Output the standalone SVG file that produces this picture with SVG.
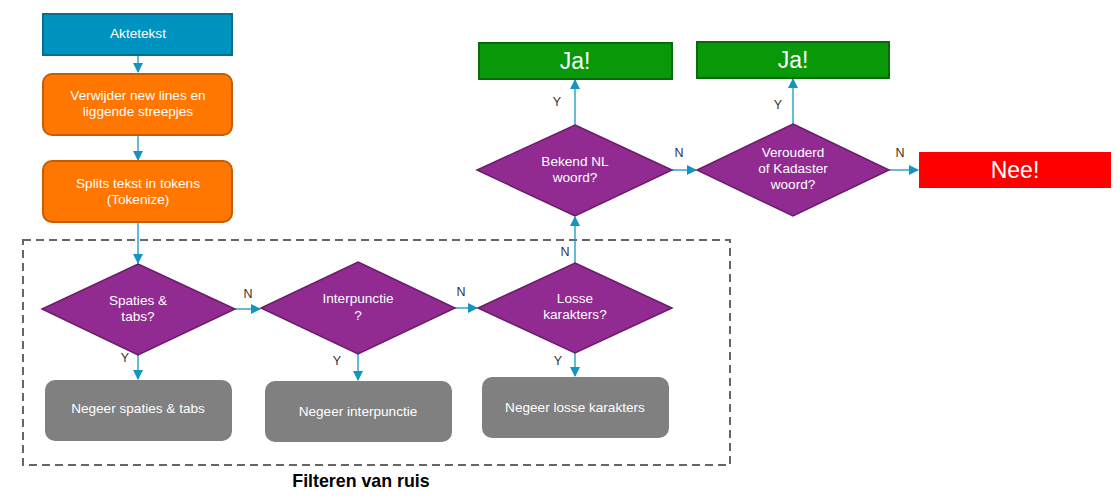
<svg xmlns="http://www.w3.org/2000/svg" width="1118" height="502" viewBox="0 0 1118 502">
<defs>
<marker id="ah" viewBox="0 0 10 10" refX="9" refY="5" markerWidth="10" markerHeight="10" markerUnits="userSpaceOnUse" orient="auto">
<path d="M0,0 L10,5 L0,10 z" fill="#1395C2"/>
</marker>
<style>
.blue{fill:#0093C0;stroke:#0A6C8E;stroke-width:2}
.orange{fill:#FF7700;stroke:#C65B00;stroke-width:2}
.dia{fill:#912A91;stroke:#6B1D6B;stroke-width:1.5}
.gray{fill:#808080;stroke:none}
.green{fill:#089808;stroke:#0A6A0A;stroke-width:2}
.red{fill:#FF0000;stroke:none}
.t{font-family:"Liberation Sans",Arial,sans-serif;font-size:13.6px;fill:#fff;text-anchor:middle}
.big{font-family:"Liberation Sans",Arial,sans-serif;font-size:23px;fill:#fff;text-anchor:middle}
.lbl{font-family:"Liberation Sans",Arial,sans-serif;font-size:12.5px;fill:#333;text-anchor:middle}
.c{stroke:#1395C2;stroke-width:1.3;fill:none;marker-end:url(#ah)}
</style>
</defs>
<rect width="1118" height="502" fill="#fff"/>
<g id="group-filter">
<rect x="23" y="240" width="707" height="225" fill="none" stroke="#666" stroke-width="2" stroke-dasharray="8,5"/>
<text x="361" y="487" font-family="'Liberation Sans',Arial,sans-serif" font-size="17.8" font-weight="bold" fill="#000" text-anchor="middle">Filteren van ruis</text>
</g>
<g id="connectors">
<line class="c" x1="138" y1="55" x2="138" y2="72"/>
<line class="c" x1="138" y1="135" x2="138" y2="160"/>
<line class="c" x1="138" y1="222" x2="138" y2="263"/>
<line class="c" x1="138" y1="355" x2="138" y2="379"/>
<line class="c" x1="358" y1="354" x2="358" y2="380"/>
<line class="c" x1="575" y1="353" x2="575" y2="376"/>
<line class="c" x1="235" y1="309" x2="260" y2="309"/>
<line class="c" x1="455" y1="308" x2="477" y2="308"/>
<line class="c" x1="575" y1="263" x2="575" y2="217"/>
<line class="c" x1="575" y1="125" x2="575" y2="80"/>
<line class="c" x1="672" y1="170" x2="696" y2="170"/>
<line class="c" x1="793" y1="124" x2="793" y2="79"/>
<line class="c" x1="889" y1="170" x2="918" y2="170"/>
<text class="lbl" x="125" y="362">Y</text>
<text class="lbl" x="337" y="365">Y</text>
<text class="lbl" x="558" y="365">Y</text>
<text class="lbl" x="248" y="298">N</text>
<text class="lbl" x="461" y="296">N</text>
<text class="lbl" x="565" y="256">N</text>
<text class="lbl" x="557" y="106">Y</text>
<text class="lbl" x="679" y="157">N</text>
<text class="lbl" x="778" y="109">Y</text>
<text class="lbl" x="900" y="157">N</text>
</g>
<g id="n-aktetekst">
<rect class="blue" x="43" y="14" width="189" height="41"/>
<text class="t" x="138" y="38">Aktetekst</text>
</g>
<g id="n-verwijder">
<rect class="orange" x="43" y="74" width="189" height="61" rx="9"/>
<text class="t" x="138" y="100">Verwijder new lines en</text>
<text class="t" x="138" y="116">liggende streepjes</text>
</g>
<g id="n-splits">
<rect class="orange" x="43" y="161" width="189" height="61" rx="9"/>
<text class="t" x="138" y="188">Splits tekst in tokens</text>
<text class="t" x="138" y="204">(Tokenize)</text>
</g>
<g id="n-spaties">
<polygon class="dia" points="138,264 235,309 138,355 42,309"/>
<text class="t" x="138" y="305">Spaties &amp;</text>
<text class="t" x="138" y="321">tabs?</text>
</g>
<g id="n-interpunctie">
<polygon class="dia" points="358,262 455,308 358,354 261,308"/>
<text class="t" x="358" y="303">Interpunctie</text>
<text class="t" x="358" y="320">?</text>
</g>
<g id="n-losse">
<polygon class="dia" points="575,263 672,308 575,353 478,308"/>
<text class="t" x="575" y="303">Losse</text>
<text class="t" x="575" y="319">karakters?</text>
</g>
<g id="n-negeer-spaties">
<rect class="gray" x="45" y="380" width="187" height="61" rx="10"/>
<text class="t" x="138" y="413">Negeer spaties &amp; tabs</text>
</g>
<g id="n-negeer-interpunctie">
<rect class="gray" x="265" y="381" width="187" height="61" rx="10"/>
<text class="t" x="358" y="416">Negeer interpunctie</text>
</g>
<g id="n-negeer-losse">
<rect class="gray" x="482" y="377" width="187" height="61" rx="10"/>
<text class="t" x="575" y="412">Negeer losse karakters</text>
</g>
<g id="n-bekend">
<polygon class="dia" points="575,125 672,170 575,216 477,170"/>
<text class="t" x="575" y="166">Bekend NL</text>
<text class="t" x="575" y="182">woord?</text>
</g>
<g id="n-verouderd">
<polygon class="dia" points="793,124 889,170 793,216 697,170"/>
<text class="t" x="793" y="157">Verouderd</text>
<text class="t" x="793" y="173">of Kadaster</text>
<text class="t" x="793" y="189">woord?</text>
</g>
<g id="n-ja1">
<rect class="green" x="479" y="43" width="193" height="36"/>
<text class="big" x="575" y="69">Ja!</text>
</g>
<g id="n-ja2">
<rect class="green" x="697" y="42" width="192" height="36"/>
<text class="big" x="793" y="68">Ja!</text>
</g>
<g id="n-nee">
<rect class="red" x="919" y="152" width="192" height="36"/>
<text class="big" x="1015" y="178" font-size="24">Nee!</text>
</g>
</svg>
